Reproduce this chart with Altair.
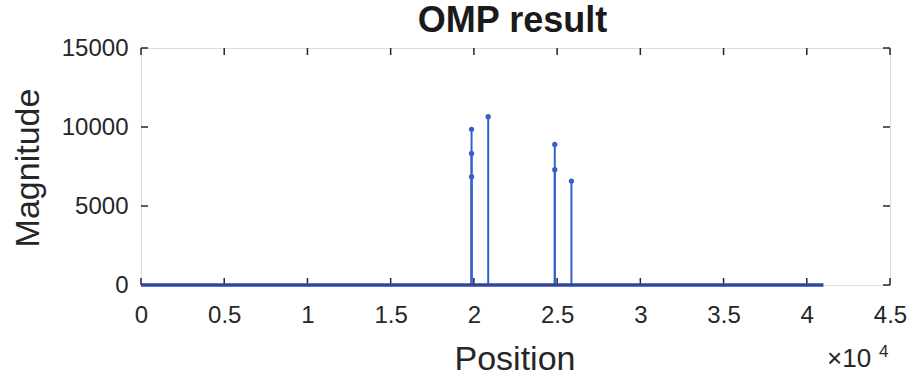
import altair as alt
import pandas as pd

# Stem data (positions in samples, magnitudes)
stem_pos = [19860, 19860, 19860, 20860, 24860, 24860, 25860]
stem_val = [9850, 8330, 6850, 10650, 8900, 7300, 6580]
# near-zero coefficients form a thick baseline along the signal length
base_start = 0
base_end = 41000

x_ticks = [0, 5000, 10000, 15000, 20000, 25000, 30000, 35000, 40000, 45000]
y_ticks = [0, 5000, 10000, 15000]

W, H = 749, 237
FONT = "Liberation Sans"
STEM = "#3461c7"
AX = "#262626"

stems = pd.DataFrame({"pos": stem_pos, "val": stem_val})
base = pd.DataFrame({"x0": [base_start], "x1": [base_end]})
xt = pd.DataFrame({"t": x_ticks})
yt = pd.DataFrame({"t": y_ticks})

xscale = alt.Scale(domain=[0, 45000], nice=False)
yscale = alt.Scale(domain=[0, 15000], nice=False)

xaxis = alt.Axis(values=x_ticks, labelExpr="datum.value / 10000", ticks=False, domain=False,
                 grid=False, labelFontSize=24, labelFont=FONT, labelColor=AX,
                 labelPadding=37, labelBaseline="alphabetic", labelFlush=False,
                 title="Position", titleFont=FONT, titleFontSize=34, titleFontWeight="normal",
                 titleColor=AX, titleX=W / 2 - 1, titleY=84, titleBaseline="alphabetic",
                 titleAlign="center")
yaxis = alt.Axis(values=y_ticks, format="d", ticks=False, domain=False, grid=False,
                 labelFontSize=24, labelFont=FONT, labelColor=AX, labelPadding=13,
                 labelBaseline="middle",
                 title="Magnitude", titleFont=FONT, titleFontSize=34, titleFontWeight="normal",
                 titleColor=AX, titleAngle=-90, titleX=-113, titleY=H / 2 + 1,
                 titleBaseline="middle", titleAlign="center")

stem_rules = alt.Chart(stems).mark_rule(color=STEM, strokeWidth=2).encode(
    x=alt.X("pos:Q", scale=xscale, axis=xaxis),
    y=alt.Y("val:Q", scale=yscale, axis=yaxis),
    y2=alt.datum(0),
)
stem_pts = alt.Chart(stems).mark_circle(color=STEM, size=28, opacity=1).encode(
    x=alt.X("pos:Q", scale=xscale),
    y=alt.Y("val:Q", scale=yscale),
)
baseline = alt.Chart(base).mark_rule(color="#2c47a0", strokeWidth=3.5).encode(
    x=alt.X("x0:Q", scale=xscale),
    x2="x1:Q",
    y=alt.datum(0),
)
tick_bottom = alt.Chart(xt).mark_rule(color=AX, strokeWidth=1.5).encode(
    x=alt.X("t:Q", scale=xscale), y=alt.value(H), y2=alt.value(H - 7))
tick_top = alt.Chart(xt).mark_rule(color=AX, strokeWidth=1.5).encode(
    x=alt.X("t:Q", scale=xscale), y=alt.value(0), y2=alt.value(7))
tick_left = alt.Chart(yt).mark_rule(color=AX, strokeWidth=1.5).encode(
    y=alt.Y("t:Q", scale=yscale), x=alt.value(0), x2=alt.value(7))
tick_right = alt.Chart(yt).mark_rule(color=AX, strokeWidth=1.5).encode(
    y=alt.Y("t:Q", scale=yscale), x=alt.value(W), x2=alt.value(W - 7))

title = alt.Chart(pd.DataFrame({"s": ["OMP result"]})).mark_text(
    font=FONT, fontSize=36, fontWeight="bold", color="#1a1a1a", align="center",
    baseline="alphabetic").encode(
    text="s:N", x=alt.value(W / 2 - 3), y=alt.value(-16))
exp_main = alt.Chart(pd.DataFrame({"s": ["×10"]})).mark_text(
    font=FONT, fontSize=26, color=AX, align="left", baseline="alphabetic").encode(
    text="s:N", x=alt.value(W - 63), y=alt.value(H + 82))
exp_sup = alt.Chart(pd.DataFrame({"s": ["4"]})).mark_text(
    font=FONT, fontSize=17, color=AX, align="left", baseline="alphabetic").encode(
    text="s:N", x=alt.value(W - 11), y=alt.value(H + 72))

chart = alt.layer(
    tick_bottom, tick_top, tick_left, tick_right, stem_rules, baseline, stem_pts,
    title, exp_main, exp_sup
).properties(
    width=W, height=H,
    autosize=alt.AutoSizeParams(type="none"),
    padding={"left": 141, "top": 48, "right": 20, "bottom": 92},
).configure_view(stroke=AX, strokeWidth=1.5).configure(background="white")

chart.save("out.html", embed_options={"renderer": "svg", "actions": False})
